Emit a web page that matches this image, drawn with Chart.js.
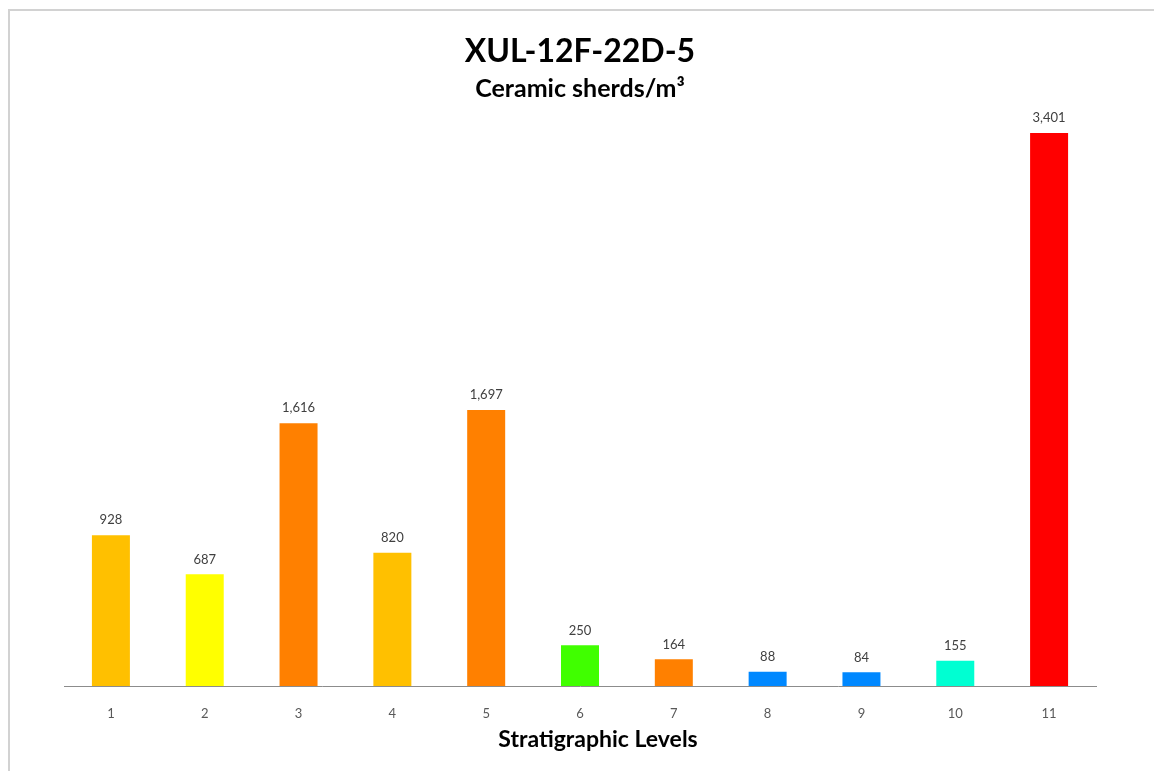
<!DOCTYPE html>
<html>
<head>
<meta charset="utf-8">
<script src="https://cdn.jsdelivr.net/npm/chart.js@4.4.1/dist/chart.umd.min.js"></script>
<style>
  html, body { margin: 0; padding: 0; background: #fff; }
  #wrap { position: relative; width: 1154px; height: 771px; overflow: hidden; }
  #frame { position: absolute; left: 8px; top: 9px; right: 0; bottom: 0;
           border-top: 2px solid #d2d2d2; border-left: 2px solid #d2d2d2; pointer-events: none; }
  canvas { position: absolute; left: 0; top: 0; }
</style>
</head>
<body>
<div id="wrap">
  <canvas id="c" width="1154" height="771"></canvas>
  <div id="frame"></div>
</div>
<script>
// Ceramic sherd density per stratigraphic level
const levels = ['1', '2', '3', '4', '5', '6', '7', '8', '9', '10', '11'];
const sherdsPerM3 = [928, 687, 1616, 820, 1697, 250, 164, 88, 84, 155, 3401];
const barColors = ['#FFC000', '#FFFF00', '#FF8000', '#FFC000', '#FF8000',
                   '#40FF00', '#FF8000', '#0088FF', '#0088FF', '#00FFD2', '#FF0000'];
const xAxisTitle = 'Stratigraphic Levels';

const FONT = 'Lato, "Open Sans", sans-serif';

// Writes each bar's value above it
const valueLabels = {
  id: 'valueLabels',
  afterDatasetsDraw(chart) {
    const ctx = chart.ctx;
    const meta = chart.getDatasetMeta(0);
    ctx.save();
    ctx.font = '13px ' + FONT;
    ctx.fillStyle = '#404040';
    ctx.textAlign = 'center';
    ctx.textBaseline = 'middle';
    meta.data.forEach((bar, i) => {
      ctx.fillText(sherdsPerM3[i].toLocaleString('en-US'), bar.x, bar.y - 15);
    });
    ctx.restore();
  }
};

// Axis title under the level numbers, set a little right of centre
const axisTitle = {
  id: 'axisTitle',
  afterDraw(chart) {
    const { ctx, chartArea } = chart;
    ctx.save();
    ctx.font = 'bold 23px ' + FONT;
    ctx.fillStyle = '#000';
    ctx.textAlign = 'center';
    ctx.textBaseline = 'middle';
    ctx.fillText(xAxisTitle, (chartArea.left + chartArea.right) / 2 + 18, chartArea.bottom + 54);
    ctx.restore();
  }
};

new Chart(document.getElementById('c'), {
  type: 'bar',
  data: {
    labels: levels,
    datasets: [{
      data: sherdsPerM3,
      backgroundColor: barColors,
      borderWidth: 0,
      categoryPercentage: 1,
      barPercentage: 0.405
    }]
  },
  options: {
    responsive: false,
    animation: false,
    layout: { padding: { left: 64, right: 58, top: 0, bottom: 0 } },
    plugins: {
      legend: { display: false },
      tooltip: { enabled: false },
      title: {
        display: true,
        text: 'XUL-12F-22D-5',
        color: '#000',
        font: { family: FONT, size: 32, weight: 'bold', lineHeight: 1.2 },
        padding: { top: 32, bottom: 2 }
      },
      subtitle: {
        display: true,
        text: 'Ceramic sherds/m³',
        color: '#000',
        font: { family: FONT, size: 25, weight: 'bold', lineHeight: 1.2 },
        padding: { top: 1.6, bottom: 13 }
      }
    },
    scales: {
      x: {
        grid: { display: false, drawTicks: false },
        border: { display: true, color: '#8c8c8c', width: 1 },
        ticks: { color: '#595959', font: { family: FONT, size: 13 }, padding: 20 },
        title: { display: false },
        afterFit(scale) { scale.height = 85; }
      },
      y: {
        display: false,
        min: 0,
        max: 3500
      }
    }
  },
  plugins: [valueLabels, axisTitle]
});
</script>
</body>
</html>
